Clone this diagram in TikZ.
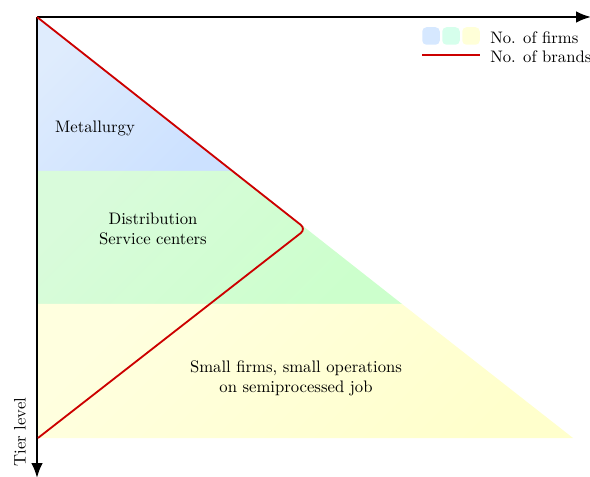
\documentclass[tikz,border=0pt]{standalone}
\usetikzlibrary{arrows.meta}
\definecolor{tierblueA}{HTML}{DFECFD}
\definecolor{tierblueB}{HTML}{CCE1FF}
\definecolor{tiergreenA}{HTML}{D9FBDB}
\definecolor{tiergreenB}{HTML}{CCFFCC}
\definecolor{tieryellowA}{HTML}{FFFFDF}
\definecolor{tieryellowB}{HTML}{FFFFCC}
\definecolor{brandred}{HTML}{CC0000}
\definecolor{legblue}{HTML}{D6E8FF}
\definecolor{leggreen}{HTML}{D6FFEC}
\definecolor{legyellow}{HTML}{FFFFD8}
\begin{document}
\begin{tikzpicture}[x=0.6pt,y=-0.6pt,
  axis/.style={line width=1.2pt,-{Latex[length=9pt,width=7pt]}},
  brandline/.style={draw=brandred,line width=1.1pt,rounded corners=4pt},
  tierlabel/.style={align=center,inner sep=0pt,font=\normalsize},
  legbox/.style={rounded corners=2.5pt,minimum width=10.5pt,minimum height=10.5pt,inner sep=0pt},
  legtext/.style={anchor=west,inner sep=0pt}]
\useasboundingbox (0,0) rectangle (590,477);

% tier bands of the firm pyramid
\shade[left color=tierblueA,right color=tierblueB,shading angle=45]
  (37,17) -- (233,171) -- (37,171) -- cycle;
\shade[left color=tiergreenA,right color=tiergreenB,shading angle=45]
  (37,171) -- (233,171) -- (402,304) -- (37,304) -- cycle;
\shade[left color=tieryellowA,right color=tieryellowB,shading angle=45]
  (37,304) -- (402,304) -- (573,438) -- (37,438) -- cycle;

% axes
\coordinate (O) at (37,17);
\coordinate (xend) at (591,17);
\coordinate (yend) at (37,478);
\draw[axis] (O) -- (xend);
\draw[axis] (O) -- (yend);

% number of brands
\coordinate (apex) at (306,229);
\coordinate (base) at (38,438);
\draw[brandline] (O) -- (apex) -- (base);

% tier labels
\node[tierlabel] (metal) at (95,128) {Metallurgy};
\node[tierlabel] (distr) at (153,229) {Distribution\\Service centers};
\node[tierlabel] (small) at (296,378) {Small firms, small operations\\on semiprocessed job};
\node[rotate=90,inner sep=0pt] (tier) at (20,432) {Tier level};

% legend
\node[legbox,fill=legblue] (lb1) at (431,36) {};
\node[legbox,fill=leggreen] (lb2) at (451,36) {};
\node[legbox,fill=legyellow] (lb3) at (471,36) {};
\node[legtext] (lfirms) at (490,38) {No. of firms};
\coordinate (lr1) at (422,55);
\coordinate (lr2) at (480,55);
\draw[draw=brandred,line width=1.1pt] (lr1) -- (lr2);
\node[legtext] (lbrands) at (490,57) {No. of brands};
\end{tikzpicture}
\end{document}
